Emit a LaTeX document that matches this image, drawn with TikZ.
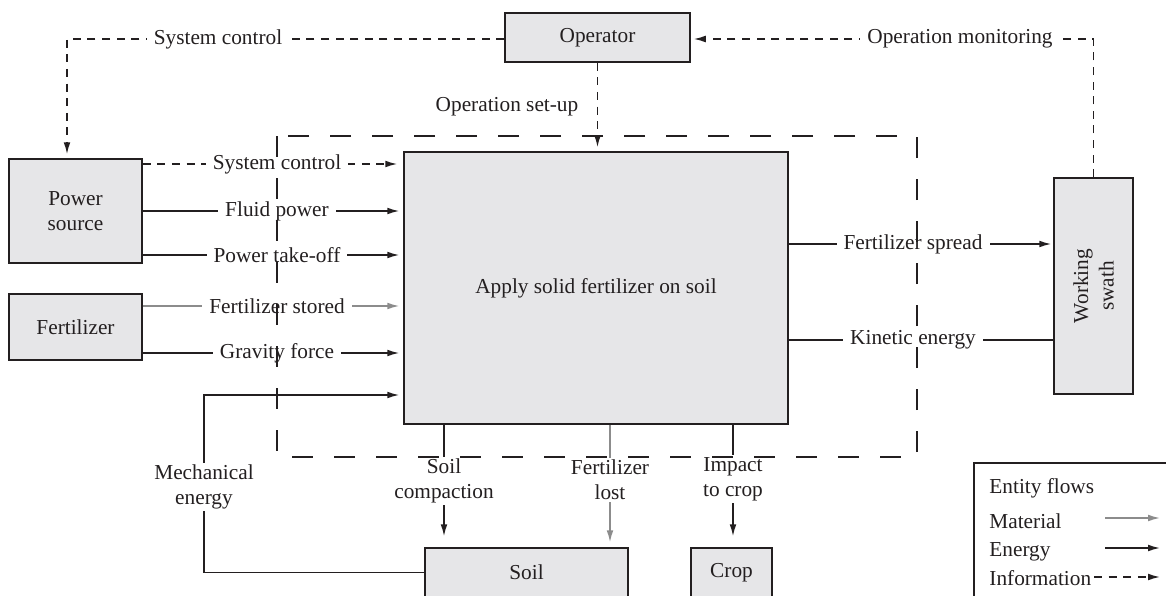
\documentclass[tikz,border=0pt]{standalone}
\usepackage{fontspec}
\setmainfont{Liberation Serif}
\usetikzlibrary{arrows.meta}
\definecolor{ink}{RGB}{35,31,32}
\definecolor{boxfill}{RGB}{230,230,232}
\definecolor{matgray}{RGB}{140,140,140}

\begin{document}
\begin{tikzpicture}[x=0.5pt,y=-0.5pt,
  font=\fontsize{10.65pt}{12.7pt}\selectfont,
  every node/.style={text=ink},
  box/.style={draw=ink, line width=0.75pt, fill=boxfill, inner sep=0pt, align=center},
  flow/.style={draw=ink, line width=0.75pt},
  tip/.style={-{Latex[length=6pt,width=3.4pt]}},
  energy/.style={flow, tip},
  material/.style={flow, draw=matgray, tip},
  info/.style={flow, dash pattern=on 4pt off 3.3pt, tip},
  lbl/.style={fill=white, inner xsep=3.5pt, inner ysep=1pt, align=center},
  boundary/.style={draw=ink, line width=0.7pt, dash pattern=on 10.5pt off 10.5pt},
  legtext/.style={anchor=base west, inner sep=0pt},
]
\useasboundingbox (0,0) rectangle (1166,595);
\clip (0,0) rectangle (1166,595);

% entities
\node[box, minimum width=92.5pt, minimum height=24.5pt] (operator) at (597.5,37.5) {Operator};
\node[box, minimum width=66.5pt, minimum height=52pt] (power) at (75.5,211) {Power\\source};
\node[box, minimum width=66.5pt, minimum height=33pt] (fert) at (75.5,327) {Fertilizer};
\node[box, minimum width=192pt, minimum height=136pt] (main) at (596,288) {Apply solid fertilizer on soil};
\node[box, minimum width=39.5pt, minimum height=108pt] (swath) at (1093.5,286) {};
\node[rotate=90, align=center] (swathtext) at (swath.center) {Working\\swath};
\node[box, minimum width=101.5pt, minimum height=24.5pt] (soil) at (526.5,572.5) {Soil};
\node[box, minimum width=40.5pt, minimum height=24.5pt] (crop) at (731.5,572.5) {Crop};

% routing helpers
\coordinate (tl) at (67,39);
\coordinate (tr) at (1093.5,39);
\coordinate (r1) at (0,164);
\coordinate (r2) at (0,211);
\coordinate (r3) at (0,255);
\coordinate (r4) at (0,306);
\coordinate (r5) at (0,353);
\coordinate (r6) at (0,395);
\coordinate (r7) at (0,244);
\coordinate (r8) at (0,340);
\coordinate (mx) at (204,0);
\coordinate (b1) at (444,0);
\coordinate (b2) at (610,0);
\coordinate (b3) at (733,0);

% information flows
\draw[info, shorten >=2pt] (operator.west |- tl) -- (tl) -- (tl |- power.north);
\draw[info, shorten >=1.5pt] (swath.north) -- (tr) -- (operator.east |- tr);
\draw[info, shorten >=2pt] (operator.south) -- (operator.south |- main.north);
\draw[info, shorten >=3pt] (power.east |- r1) -- (main.west |- r1);

% inputs
\draw[energy, shorten >=2pt] (power.east |- r2) -- (main.west |- r2);
\draw[energy, shorten >=2pt] (power.east |- r3) -- (main.west |- r3);
\draw[material, shorten >=2pt] (fert.east |- r4) -- (main.west |- r4);
\draw[energy, shorten >=2pt] (fert.east |- r5) -- (main.west |- r5);
\draw[energy, shorten >=2pt] (soil.west) -- (mx |- soil.west) -- (mx |- r6) -- (main.west |- r6);

% outputs
\draw[energy, shorten >=1pt] (main.east |- r7) -- (swath.west |- r7);
\draw[flow] (main.east |- r8) -- (swath.west |- r8);
\draw[energy, shorten >=5.5pt] (main.south -| b1) -- (soil.north -| b1);
\draw[material, shorten >=2.5pt] (main.south -| b2) -- (soil.north -| b2);
\draw[energy, shorten >=5.5pt] (main.south -| b3) -- (crop.north -| b3);

% flow labels
\node[lbl] (l1) at (218,39) {System control};
\node[lbl] (l2) at (507,107) {Operation set-up};
\node[lbl] (l3) at (960,39) {Operation monitoring};
\node[lbl] (l4) at (277,164) {System control};
\node[lbl] (l5) at (277,211) {Fluid power};
\node[lbl] (l6) at (277,255) {Power take-off};
\node[lbl] (l7) at (277,306) {Fertilizer stored};
\node[lbl] (l8) at (277,353) {Gravity force};
\node[lbl] (l9) at (204,487) {Mechanical\\energy};
\node[lbl] (l10) at (913,244) {Fertilizer spread};
\node[lbl] (l11) at (913,340) {Kinetic energy};
\node[lbl] (l12) at (444,481) {Soil\\compaction};
\node[lbl] (l13) at (610,480) {Fertilizer\\lost};
\node[lbl] (l14) at (733,479) {Impact\\to crop};

% system boundary
\draw[boundary] (277,136) rectangle (917,457);

% legend
\draw[flow] (1170,463) -- (974,463) -- (974,600);
\node[legtext] (lgtitle) at (989,493) {Entity flows};
\node[legtext] (lgmat) at (989,528) {Material};
\node[legtext] (lgen) at (989,556) {Energy};
\node[legtext] (lginf) at (989,585) {Information};
\coordinate (ly1) at (1105,518);
\coordinate (ly2) at (1105,548);
\coordinate (ly3) at (1094,577);
\coordinate (lx2) at (1160,0);
\draw[material] (ly1) -- (ly1 -| lx2);
\draw[energy] (ly2) -- (ly2 -| lx2);
\draw[info] (ly3) -- (ly3 -| lx2);
\end{tikzpicture}
\end{document}
